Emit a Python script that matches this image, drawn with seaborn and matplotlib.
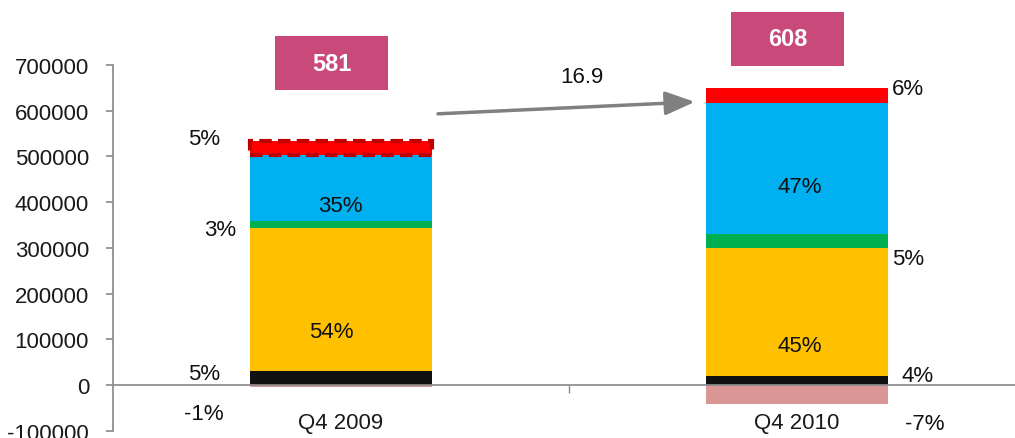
import matplotlib
matplotlib.use("Agg")
import matplotlib.pyplot as plt
import seaborn as sns
import numpy as np
import pandas as pd
from matplotlib.patches import Rectangle

# ---- data ----
categories = ["Q4 2009", "Q4 2010"]
seg_black = [30000, 20000]
seg_yellow = [313000, 280000]
seg_green = [15000, 30000]
seg_blue = [144000, 287000]
seg_red = [31000, 33000]
seg_neg = [-3000, -41000]

pct_labels = ["5%", "35%", "3%", "54%", "5%", "-1%",
              "6%", "47%", "5%", "45%", "4%", "-7%"]
pct_cat = [0, 0, 0, 0, 0, 0, 1, 1, 1, 1, 1, 1]
pct_dx = [-0.30, 0.0, -0.265, -0.02, -0.30, -0.30,
          0.243, 0.007, 0.243, 0.007, 0.265, 0.28]
pct_y = [538000, 392000, 341000, 118000, 26000, -61000,
         648000, 435000, 276000, 87500, 22000, -83000]

box_labels = ["581", "608"]
box_y = [703000, 757000]
growth_label = "16.9"

yticks = [-100000, 0, 100000, 200000, 300000, 400000, 500000, 600000, 700000]

FS = 16

# ---- style ----
sns.set_theme(style="white")
plt.rcParams["font.family"] = ["Liberation Sans", "DejaVu Sans"]

fig = plt.figure(figsize=(10.15, 4.39), dpi=100)
ax = fig.add_axes([0.111, 0.016, 0.899, 0.834])

layers = [
    (seg_black, "#111111"),
    (seg_yellow, "#FFC000"),
    (seg_green, "#00B050"),
    (seg_blue, "#00B0F0"),
    (seg_red, "#FF0000"),
]
bottom = np.zeros(len(categories))
df = pd.DataFrame({"cat": categories})
red_container = None
for vals, col in layers:
    df["v"] = vals
    sns.barplot(data=df, x="cat", y="v", color=col, width=0.4,
                bottom=bottom.copy(), saturation=1, ax=ax, linewidth=0,
                errorbar=None)
    if col == "#FF0000":
        red_container = ax.containers[-1]
    bottom = bottom + np.array(vals)

df["v"] = seg_neg
sns.barplot(data=df, x="cat", y="v", color="#DA9694", width=0.4,
            saturation=1, ax=ax, linewidth=0, errorbar=None)

# dashed outline on 2009 top segment
p = red_container.patches[0]
p.set_edgecolor("#C00000")
p.set_linestyle((0, (3, 1.5)))
p.set_linewidth(3)

ax.set_xlim(-0.5, 1.5)
ax.set_ylim(-100000, 700000)
ax.set_yticks(yticks)
ax.set_yticklabels([str(t) for t in yticks])
ax.set_xlabel("")
ax.set_ylabel("")

for s in ["top", "right"]:
    ax.spines[s].set_visible(False)
ax.spines["left"].set_color("#8C8C8C")
ax.spines["bottom"].set_color("#8C8C8C")
ax.spines["bottom"].set_position(("data", 0))
ax.spines["bottom"].set_zorder(5)
ax.tick_params(axis="y", left=True, direction="out", length=5, color="#8C8C8C",
               labelsize=FS, pad=12, labelcolor="#1a1a1a")
ax.set_xticks([0, 1])
ax.set_xticklabels(categories)
ax.tick_params(axis="x", bottom=False, labelsize=FS, pad=13, labelcolor="#1a1a1a")
ax.set_xticks([0.5], minor=True)
ax.tick_params(axis="x", which="minor", bottom=True, length=6, color="#8C8C8C", direction="out")

for lab, c, dx, y in zip(pct_labels, pct_cat, pct_dx, pct_y):
    ax.text(c + dx, y, lab, ha="center", va="center", fontsize=FS, color="#111111")

for i, (lab, y) in enumerate(zip(box_labels, box_y)):
    ax.add_patch(Rectangle((i - 0.02 - 0.124, y - 59000), 0.248, 118000,
                           facecolor="#C9497B", edgecolor="none", clip_on=False, zorder=4))
    ax.text(i - 0.02, y, lab, ha="center", va="center", fontsize=17,
            fontweight="bold", color="white", zorder=5, clip_on=False)

ax.annotate("", xy=(0.776, 619000), xytext=(0.213, 593000),
            arrowprops=dict(arrowstyle="-|>,head_length=1.5,head_width=0.6",
                            color="#808080", lw=2.5, shrinkA=0, shrinkB=0))
ax.text(0.528, 674000, growth_label, ha="center", va="center", fontsize=FS, color="#111111")

fig.savefig("out.png", dpi=100)
